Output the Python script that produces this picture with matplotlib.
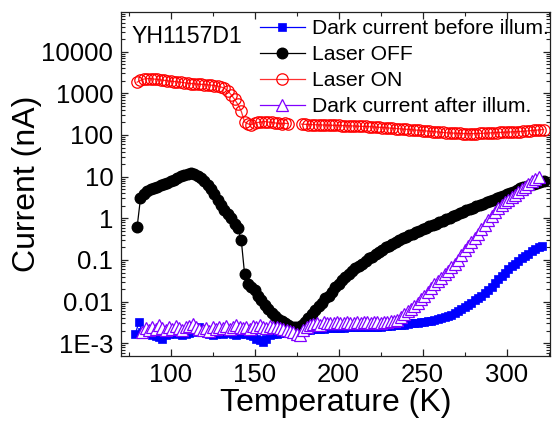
import matplotlib
matplotlib.use('Agg')
import matplotlib.pyplot as plt
import numpy as np
from matplotlib.ticker import FixedLocator, FixedFormatter, LogLocator, MultipleLocator, NullFormatter

# ---------------- data ----------------
T_off = [80, 82, 84, 86, 88, 90, 92, 94, 96, 98, 100, 102, 104, 106, 108, 110, 112, 114, 116, 118,
         120, 122, 124, 126, 128, 130, 132, 134, 136, 138, 140, 142, 144, 146, 148, 150, 152, 154, 156, 158,
         160, 162, 164, 166, 168, 170, 172, 174, 176, 178, 180, 182, 184, 186, 188, 190, 192, 194, 196, 198,
         200, 202, 204, 206, 208, 210, 212, 214, 216, 218, 220, 222, 224, 226, 228, 230, 232, 234, 236, 238,
         240, 242, 244, 246, 248, 250, 252, 254, 256, 258, 260, 262, 264, 266, 268, 270, 272, 274, 276, 278,
         280, 282, 284, 286, 288, 290, 292, 294, 296, 298, 300, 302, 304, 306, 308, 310, 312, 314, 316, 318,
         320, 322]
I_off = [0.62, 3.0, 3.9, 4.5, 5.0, 5.4, 5.8, 6.2, 6.7, 7.2, 7.8, 8.5, 9.3, 10.2, 11.0, 11.8, 12.0, 11.5, 10.5, 9.2,
         7.8, 6.4, 5.0, 3.8, 2.8, 2.1, 1.6, 1.25, 1.0, 0.75, 0.57, 0.30, 0.045, 0.026, 0.022, 0.019, 0.014, 0.011, 0.0085, 0.0068,
         0.0052, 0.0045, 0.0038, 0.0034, 0.0030, 0.0027, 0.0025, 0.0024, 0.0025, 0.0028, 0.0033, 0.0040, 0.0050, 0.0062, 0.0078, 0.0095, 0.012, 0.014, 0.017, 0.022,
         0.027, 0.033, 0.039, 0.046, 0.055, 0.063, 0.072, 0.082, 0.094, 0.11, 0.12, 0.14, 0.155, 0.175, 0.20, 0.22, 0.245, 0.27, 0.30, 0.33,
         0.36, 0.39, 0.42, 0.46, 0.50, 0.54, 0.59, 0.64, 0.69, 0.75, 0.81, 0.88, 0.95, 1.03, 1.12, 1.21, 1.31, 1.42, 1.54, 1.67,
         1.80, 1.95, 2.1, 2.25, 2.4, 2.6, 2.8, 3.0, 3.25, 3.5, 3.8, 4.1, 4.4, 4.8, 5.2, 5.6, 6.0, 6.4, 6.8, 7.2,
         7.5, 7.7]

T_on = [80, 82, 84, 86, 88, 90, 92, 94, 96, 98, 100, 102, 104, 106, 108, 110, 112, 114, 116, 118,
        120, 122, 124, 126, 128, 130, 132, 134, 136, 138, 140, 142, 144, 146, 148, 150, 152, 154, 156, 158,
        160, 162, 164, 166, 168, 170, 174,
        178, 180, 182, 184, 186, 188, 190, 192, 194, 196, 198, 200, 202, 204, 206, 208, 210, 212, 214, 216,
        218, 220, 222, 224, 226, 228, 230, 232, 234, 236, 238, 240, 242, 244, 246, 248, 250, 252, 254, 256,
        258, 260, 262, 264, 266, 268, 270, 272, 274, 276, 278, 280, 282, 284, 286, 288, 290, 292, 294, 296,
        298, 300, 302, 304, 306, 308, 310, 312, 314, 316, 318, 320, 322]
I_on = [1850, 2050, 2200, 2250, 2250, 2200, 2150, 2100, 2050, 2000, 1950, 1920, 1880, 1850, 1800, 1750, 1720, 1690, 1660, 1640,
        1620, 1600, 1570, 1540, 1490, 1420, 1320, 1150, 920, 720, 540, 370, 205, 185, 175, 195, 200, 205, 210, 205,
        200, 195, 190, 185, 190, 188, np.nan,
        182, 180, 178, 177, 176, 175, 174, 173, 172, 171, 170, 169, 168, 167, 166, 165, 164, 162, 161, 160,
        158, 157, 155, 153, 151, 149, 147, 145, 143, 141, 139, 137, 135, 133, 131, 130, 127, 125, 123, 121,
        119, 117, 115, 113, 112, 111, 110, 109, 108, 108, 108, 108, 108, 109, 110, 111, 112, 113, 114, 115,
        116, 117, 118, 119, 120, 121, 123, 125, 127, 129, 131, 133, 135]

T_dark1 = [79, 81, 83, 85, 87, 89, 91, 93, 95, 97, 99, 101, 103, 105, 107, 109, 111, 113, 115, 117,
           119, 121, 123, 125, 127, 129, 131, 133, 135, 137, 139, 141, 143, 145, 147, 149, 151, 153, 155, 157,
           159, 161, 163, 165, 167, 169, 171, 173, 175, 177, 179, 181, 183, 185, 187, 189, 191, 193, 195, 197,
           199, 201, 203, 205, 207, 209, 211, 213, 215, 217, 219, 221, 223, 225, 227, 229, 231, 233, 235, 237,
           239, 241, 243, 245, 247, 249, 251, 253, 255, 257, 259, 261, 263, 265, 267, 269, 271, 273, 275, 277,
           279, 281, 283, 285, 287, 289, 291, 293, 295, 297, 299, 301, 303, 305, 307, 309, 311, 313, 315, 317,
           319, 321]
I_dark1 = [0.0017, 0.0032, 0.0019, 0.0017, 0.0018, 0.0016, 0.0015, 0.0014, 0.0013, 0.0016, 0.0017, 0.0018, 0.0017, 0.0018, 0.0016, 0.0017, 0.0018, 0.0019, 0.0021, 0.0024,
           0.0022, 0.0018, 0.0017, 0.0016, 0.0017, 0.0018, 0.0017, 0.0018, 0.0019, 0.0017, 0.0016, 0.0017, 0.0018, 0.0017, 0.0016, 0.0015, 0.0013, 0.0012, 0.0011, 0.0013,
           0.0016, 0.0017, 0.0017, 0.0018, 0.0018, 0.0019, 0.0019, 0.0020, 0.0020, 0.0020, 0.0021, 0.0021, 0.0021, 0.0022, 0.0022, 0.0022, 0.0022, 0.0023, 0.0023, 0.0023,
           0.0023, 0.0023, 0.0023, 0.0024, 0.0024, 0.0024, 0.0024, 0.0024, 0.0024, 0.0025, 0.0025, 0.0025, 0.0025, 0.0025, 0.0026, 0.0026, 0.0026, 0.0027, 0.0027, 0.0028,
           0.0028, 0.0029, 0.0030, 0.0030, 0.0031, 0.0032, 0.0033, 0.0034, 0.0035, 0.0036, 0.0038, 0.0040, 0.0042, 0.0045, 0.0048, 0.0053, 0.0058, 0.0065, 0.0073, 0.0083,
           0.0095, 0.011, 0.012, 0.014, 0.016, 0.019, 0.023, 0.028, 0.034, 0.041, 0.050, 0.060, 0.070, 0.082, 0.095, 0.11, 0.125, 0.14, 0.16, 0.18,
           0.20, 0.22]

T_dark2 = [83, 85, 87, 89, 91, 93, 95, 97, 99, 101, 103, 105, 107, 109, 111, 113, 115, 117, 119, 121,
           123, 125, 127, 129, 131, 133, 135, 137, 139, 141, 143, 145, 147, 149, 151, 153, 155, 157, 159, 161,
           163, 165, 167, 169, 171, 173, 175, 177, 179, 181, 183, 185, 187, 189, 191, 193, 195, 197, 199, 201,
           203, 205, 207, 209, 211, 213, 215, 217, 219, 221, 223, 225, 227, 229, 231, 233, 235, 237, 239, 241,
           243, 245, 247, 249, 251, 253, 255, 257, 259, 261, 263, 265, 267, 269, 271, 273, 275, 277, 279, 281,
           283, 285, 287, 289, 291, 293, 295, 297, 299, 301, 303, 305, 307, 309, 311, 313, 315, 317, 319]
I_dark2 = [0.0019, 0.0023, 0.0021, 0.0025, 0.0022, 0.0027, 0.0023, 0.0021, 0.0024, 0.0022, 0.0026, 0.0023, 0.0021, 0.0024, 0.0026, 0.0029, 0.0024, 0.0022, 0.0021, 0.0023,
           0.0020, 0.0024, 0.0022, 0.0025, 0.0023, 0.0026, 0.0022, 0.0024, 0.0028, 0.0025, 0.0023, 0.0025, 0.0022, 0.0026, 0.0024, 0.0027, 0.0025, 0.0023, 0.0026, 0.0024,
           0.0025, 0.0023, 0.0022, 0.0021, 0.0020, 0.0019, 0.0017, 0.0016, 0.0021, 0.0024, 0.0027, 0.0029, 0.0031, 0.0027, 0.0032, 0.0030, 0.0031, 0.0030, 0.0032, 0.0031,
           0.0030, 0.0033, 0.0031, 0.0030, 0.0032, 0.0031, 0.0033, 0.0032, 0.0031, 0.0033, 0.0032, 0.0031, 0.0033, 0.0032, 0.0034, 0.0035, 0.0037, 0.0042, 0.0050, 0.0058,
           0.0068, 0.0080, 0.0095, 0.0115, 0.014, 0.017, 0.021, 0.026, 0.031, 0.037, 0.045, 0.055, 0.066, 0.080, 0.100, 0.130, 0.170, 0.215, 0.270, 0.340,
           0.430, 0.550, 0.700, 0.900, 1.15, 1.45, 1.80, 2.10, 2.40, 2.80, 3.20, 3.70, 4.30, 5.00, 5.80, 6.70, 7.70, 8.80, 10.0]

series_labels = ['Dark current before illum.', 'Laser OFF', 'Laser ON', 'Dark current after illum.']
ytick_vals = [1e-3, 1e-2, 1e-1, 1, 10, 100, 1000, 10000]
ytick_labels = ['1E-3', '0.01', '0.1', '1', '10', '100', '1000', '10000']
xtick_vals = [100, 150, 200, 250, 300]
sample_name = 'YH1157D1'

# ---------------- figure ----------------
plt.rcParams['font.family'] = ['Liberation Sans', 'DejaVu Sans']
W, H = 555, 425
fig = plt.figure(figsize=(W / 100, H / 100), dpi=100)
L, R, Tp, B = 121, 550, 12, 355.7
ax = fig.add_axes([L / W, 1 - B / H, (R - L) / W, (B - Tp) / H])

BLUE = '#0000FF'
PURPLE = '#8000FF'
ax.plot(T_dark1, I_dark1, color=BLUE, lw=0.9, marker='s', ms=6.3, mfc=BLUE, mec=BLUE, mew=0.5,
        label=series_labels[0])
ax.plot(T_off, I_off, color='black', lw=0.9, marker='o', ms=7.6, mfc='black', mec='black',
        label=series_labels[1])
ax.plot(T_on, I_on, color='#FF3030', lw=0.9, marker='o', ms=8.2, mfc='none', mec='red', mew=0.9,
        label=series_labels[2])
ax.plot(T_dark2, I_dark2, color=PURPLE, lw=0.9, marker='^', ms=8.6, mfc='white', mec=PURPLE, mew=0.9,
        label=series_labels[3])

ax.set_yscale('log')
ax.set_ylim(5.04e-4, 8.95e4)
ax.set_xlim(70.4, 325.8)

ax.yaxis.set_major_locator(FixedLocator(ytick_vals))
ax.yaxis.set_major_formatter(FixedFormatter(ytick_labels))
ax.yaxis.set_minor_locator(LogLocator(base=10, subs=np.arange(2, 10), numticks=30))
ax.yaxis.set_minor_formatter(NullFormatter())
ax.xaxis.set_major_locator(FixedLocator(xtick_vals))
ax.xaxis.set_minor_locator(MultipleLocator(25))

ax.tick_params(which='both', direction='in', top=True, right=True, colors='#222222')
ax.tick_params(which='major', length=5, width=0.9)
ax.tick_params(which='minor', length=3, width=0.8)
ax.tick_params(axis='both', which='major', labelsize=18.5, labelcolor='black')
ax.tick_params(axis='y', which='major', pad=5.5)
ax.tick_params(axis='x', which='major', pad=5)
for s in ax.spines.values():
    s.set_linewidth(0.9)
    s.set_color('#222222')

ax.set_xlabel('Temperature (K)', fontsize=23)
ax.set_ylabel('Current (nA)', fontsize=23)
ax.xaxis.set_label_coords(0.5, -0.095)
ax.yaxis.set_label_coords(-0.185, 0.5)

ax.text(0.025, 0.91, sample_name, transform=ax.transAxes, fontsize=16.6, va='baseline', ha='left')

leg = ax.legend(loc='upper left', bbox_to_anchor=(260 / W, 1 - 19 / H), bbox_transform=fig.transFigure,
                frameon=False, fontsize=15.2, handlelength=2.13, handletextpad=0.32, labelspacing=0.33,
                borderpad=0, borderaxespad=0, numpoints=1)

fig.savefig('out.png', dpi=100)
